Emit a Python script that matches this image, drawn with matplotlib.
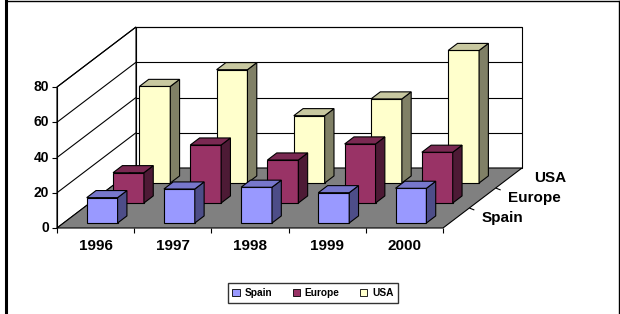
import matplotlib
matplotlib.use("Agg")
import matplotlib.pyplot as plt
from matplotlib.patches import Polygon, Patch
from matplotlib.lines import Line2D

# ---------------- data ----------------
categories = ["1996", "1997", "1998", "1999", "2000"]
series_names = ["Spain", "Europe", "USA"]
spain = [14.4, 19.3, 20.3, 17.2, 19.7]
europe = [17.2, 32.9, 24.4, 33.5, 28.8]
usa = [54.8, 64.3, 38.2, 47.7, 75.2]
y_ticks = [0, 20, 40, 60, 80]
y_max = 80

series_values = [spain, europe, usa]
front_colors = ["#9999FF", "#993366", "#FFFFCC"]
top_colors = ["#7777CC", "#7A2952", "#C8C8A0"]
side_colors = ["#4D4D88", "#4D1A35", "#808066"]

# ---------------- layout ----------------
W, H = 620, 314
PX_X0, PX_PER_CAT = 57.0, 77.2
PX_Y0, PX_PER_UNIT = 228.0, 141.0 / 80.0
DEPTH_DX = 79.0 / PX_PER_CAT
DEPTH_DY = 60.0 / PX_PER_UNIT

fig = plt.figure(figsize=(W / 100, H / 100), dpi=100)
ax = fig.add_axes([0, 0, 1, 1])
ax.set_xlim(-PX_X0 / PX_PER_CAT, (W - PX_X0) / PX_PER_CAT)
ax.set_ylim((PX_Y0 - H) / PX_PER_UNIT, PX_Y0 / PX_PER_UNIT)
ax.axis("off")
ax.set_autoscale_on(False)

FONT = "Liberation Sans"
LW = 0.8


def P(x, y, d):
    return (x + d * DEPTH_DX, y + d * DEPTH_DY)


def poly(pts, fc, ec="black", lw=LW, z=1):
    ax.add_patch(Polygon(pts, closed=True, facecolor=fc, edgecolor=ec,
                         linewidth=lw, zorder=z, joinstyle="miter"))


def line(p0, p1, lw=LW, z=2):
    ax.add_line(Line2D([p0[0], p1[0]], [p0[1], p1[1]], color="black",
                       linewidth=lw, zorder=z, solid_capstyle="butt"))


n = len(categories)
ns = len(series_names)

# walls
poly([P(0, 0, 1), P(n, 0, 1), P(n, y_max, 1), P(0, y_max, 1)], "white", z=1)
poly([P(0, 0, 0), P(0, 0, 1), P(0, y_max, 1), P(0, y_max, 0)], "white", z=1)
for v in y_ticks[1:]:
    line(P(0, v, 0), P(0, v, 1), z=1.5)
    line(P(0, v, 1), P(n, v, 1), z=1.5)
# floor
poly([P(0, 0, 0), P(n, 0, 0), P(n, 0, 1), P(0, 0, 1)], "#808080", z=2)

# y axis
line(P(0, 0, 0), P(0, y_max, 0), z=3)
tick_len_x = 5 / PX_PER_CAT
for v in y_ticks:
    line((-tick_len_x, v), (0, v), z=3)
    ax.text(-0.1, v, str(v), ha="right", va="center", fontsize=10,
            fontweight="bold", family=FONT)

# x axis ticks and labels
tick_len_y = 5 / PX_PER_UNIT
for i in range(n + 1):
    line((i, 0), (i, -tick_len_y), z=3)
for i, c in enumerate(categories):
    ax.text(i + 0.5, -10.1, c, ha="center", va="center", fontsize=11,
            fontweight="bold", family=FONT)

# depth axis ticks and labels
for s in range(1, ns):
    p = P(n, 0, s / ns)
    line(p, (p[0] + 5 / PX_PER_CAT, p[1] - 2 / PX_PER_UNIT), z=3)
for s, name in enumerate(series_names):
    p = P(n, 0, (s + 0.5) / ns)
    ax.text(p[0] + 25 / PX_PER_CAT, p[1], name, ha="left", va="center",
            fontsize=11, fontweight="bold", family=FONT)

# bars, back to front
bar_half = 0.2
for s in reversed(range(ns)):
    d0 = s / ns + 0.083
    d1 = d0 + 0.118
    for i, v in enumerate(series_values[s]):
        x0, x1 = i + 0.5 - bar_half, i + 0.5 + bar_half
        z = 10 + (ns - s)
        poly([P(x0, 0, d0), P(x1, 0, d0), P(x1, v, d0), P(x0, v, d0)],
             front_colors[s], z=z)
        poly([P(x1, 0, d0), P(x1, 0, d1), P(x1, v, d1), P(x1, v, d0)],
             side_colors[s], z=z)
        poly([P(x0, v, d0), P(x1, v, d0), P(x1, v, d1), P(x0, v, d1)],
             top_colors[s], z=z)

# legend
handles = [Patch(facecolor=front_colors[s], edgecolor="black", linewidth=0.6,
                 label=series_names[s]) for s in range(ns)]
leg = ax.legend(handles=handles, loc="center", ncol=3,
                bbox_to_anchor=(313 / W, 1 - 293 / H),
                bbox_transform=fig.transFigure,
                prop={"family": FONT, "weight": "bold", "size": 7.3},
                frameon=True, fancybox=False, shadow=False,
                handlelength=0.7, handleheight=0.7, handletextpad=0.5,
                columnspacing=2.0, borderpad=0.45, borderaxespad=0)
leg.get_frame().set_edgecolor("black")
leg.get_frame().set_linewidth(1.0)
leg.set_zorder(20)

# outer frame
fig.add_artist(Line2D([5.8 / W, 5.8 / W], [0, 1 - 0.5 / H], color="black",
                      linewidth=2.2, transform=fig.transFigure))
fig.add_artist(Line2D([5.8 / W, 618.5 / W], [1 - 0.5 / H, 1 - 0.5 / H],
                      color="black", linewidth=1.0, transform=fig.transFigure))
fig.add_artist(Line2D([618.5 / W, 618.5 / W], [0, 1 - 0.5 / H],
                      color="black", linewidth=1.0, transform=fig.transFigure))

fig.savefig("out.png", dpi=100, facecolor="white")
